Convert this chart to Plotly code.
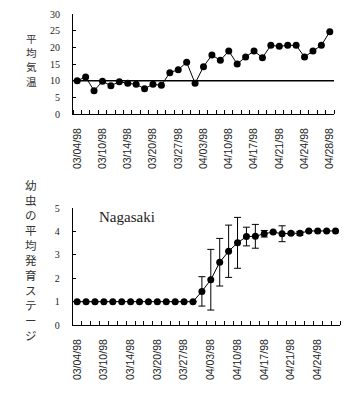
import plotly.graph_objects as go

# ---- data ----
temp_labels = ["03/04/98", "03/10/98", "03/14/98", "03/20/98", "03/27/98", "04/03/98",
               "04/10/98", "04/17/98", "04/21/98", "04/24/98", "04/28/98"]
temp_values = [10.0, 11.1, 7.0, 9.8, 8.5, 9.7, 9.2, 8.9, 7.6, 8.9, 8.6, 12.4, 13.3, 15.5,
               9.2, 14.2, 17.7, 16.1, 18.9, 15.0, 17.1, 18.9, 16.9, 20.6, 20.3, 20.6, 20.6,
               17.1, 18.9, 20.6, 24.7]
temp_threshold = 10

stage_labels = ["03/04/98", "03/10/98", "03/14/98", "03/20/98", "03/27/98", "04/03/98",
                "04/10/98", "04/17/98", "04/21/98", "04/24/98"]
stage_values = [1, 1, 1, 1, 1, 1, 1, 1, 1, 1, 1, 1, 1, 1,
                1.44, 1.94, 2.69, 3.16, 3.52, 3.79, 3.80, 3.91, 3.98, 3.91, 3.93, 3.93,
                4.03, 4.03, 4.03, 4.03]
stage_err = [0, 0, 0, 0, 0, 0, 0, 0, 0, 0, 0, 0, 0, 0,
             0.63, 1.30, 1.02, 1.12, 1.09, 0.40, 0.51, 0.14, 0, 0.34, 0.05, 0.08,
             0, 0, 0, 0]
label_step = 3

temp_title = "平均気温"
stage_title = "幼虫の平均発育ステージ"

tx = list(range(len(temp_values)))
sx = list(range(len(stage_values)))

fig = go.Figure()

fig.add_trace(go.Scatter(
    x=tx, y=temp_values, mode="lines+markers", xaxis="x", yaxis="y",
    line=dict(color="black", width=1),
    marker=dict(color="black", size=7), showlegend=False))

fig.add_trace(go.Scatter(
    x=sx, y=stage_values, mode="lines+markers", xaxis="x2", yaxis="y2",
    line=dict(color="black", width=1),
    marker=dict(color="black", size=7),
    error_y=dict(type="data", array=stage_err, color="black", thickness=1, width=3.5),
    showlegend=False))

fig.add_shape(type="line", xref="x domain", yref="y", x0=0, x1=1,
              y0=temp_threshold, y1=temp_threshold, line=dict(color="black", width=1.5))

# page body has an 8px margin; figure is sized to fit the window after it
OFF = 8
W, H = 361 - OFF, 393 - OFF

def px(x):
    return (x - OFF) / W

def py(y):
    return 1 - (y - OFF) / H

tick_font = dict(family="Liberation Sans, Arial", size=10.5, color="#222")
ytick_font = dict(family="Liberation Serif, Times New Roman", size=10, color="#222")

def xax(n, labels, dom):
    return dict(
        domain=dom, range=[-0.5, n - 0.5], showgrid=False, zeroline=False,
        showline=True, linecolor="black", linewidth=1, automargin=False,
        tickmode="array", tickvals=list(range(0, n, label_step))[:len(labels)],
        ticktext=labels, ticks="", tickangle=-90, tickfont=tick_font,
        ticklabelstandoff=9, ticklabeloverflow="allow",
        minor=dict(tickmode="array", tickvals=[i - 0.5 for i in range(n + 1)],
                   ticks="inside", ticklen=4, tickcolor="black", tickwidth=1),
    )

def yax(rng, dtick, dom, anchor):
    return dict(
        domain=dom, range=rng, showgrid=False, zeroline=False, anchor=anchor,
        showline=True, linecolor="black", linewidth=1, automargin=False,
        dtick=dtick, ticks="inside", ticklen=3, tickcolor="black",
        tickfont=ytick_font, ticklabelstandoff=10, ticklabeloverflow="allow",
    )

fig.update_layout(
    width=W, height=H, margin=dict(l=0, r=0, t=0, b=0, autoexpand=False),
    paper_bgcolor="white", plot_bgcolor="white",
    xaxis=dict(xax(len(temp_values), temp_labels, [px(73), px(334)]), anchor="y"),
    yaxis=yax([0, 30], 5, [py(114), py(14)], "x"),
    xaxis2=dict(xax(len(stage_values), stage_labels, [px(72.7), px(340)]), anchor="y2"),
    yaxis2=yax([0, 5], 1, [py(325), py(208.3)], "x2"),
)

cjk = "Noto Sans CJK JP"

def vertical_title(text, y_first, step, size):
    for i, ch in enumerate(text):
        fig.add_annotation(text=ch, xref="paper", yref="paper",
                           x=px(31), y=py(y_first + i * step), showarrow=False,
                           xanchor="center", yanchor="middle",
                           font=dict(family=cjk, size=size, color="#333"))

vertical_title(temp_title, 38, 14.5, 10.6)
vertical_title(stage_title, 185, 15, 11.5)

fig.add_annotation(text="Nagasaki", xref="paper", yref="paper",
                   x=px(97), y=py(217), showarrow=False, xanchor="left", yanchor="middle",
                   font=dict(family="Liberation Serif, Times New Roman", size=15, color="#222"))

fig.write_html("out.html")
